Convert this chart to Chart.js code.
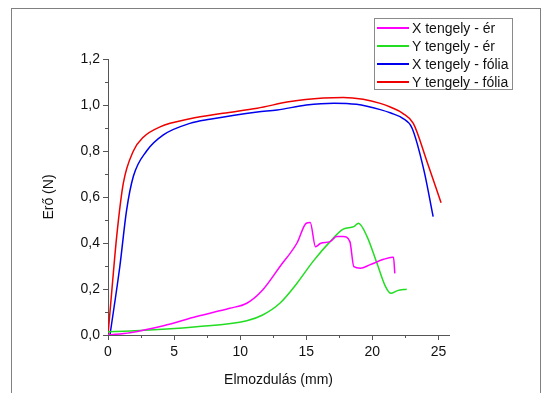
<!DOCTYPE html>
<html>
<head>
<meta charset="utf-8">
<script src="https://cdn.jsdelivr.net/npm/chart.js@4/dist/chart.umd.min.js"></script>
<style>
  html, body { margin: 0; padding: 0; background: #fff; }
  #wrap { position: relative; width: 545px; height: 393px; overflow: hidden; font-family: "Liberation Sans", Arial, sans-serif; }
  #frame { position: absolute; left: 11px; top: 8px; width: 530px; height: 400px; border: 1px solid #808080; box-sizing: border-box; }
  #legend { position: absolute; left: 374px; top: 18px; width: 139px; height: 72px; border: 1px solid #8a8a8a; box-sizing: border-box; background: #fff; }
  .item { position: absolute; left: 1px; height: 18px; line-height: 18px; font-size: 14px; color: #111; white-space: nowrap; }
  .item span.ln { position: absolute; left: 1px; top: 8px; width: 32px; height: 1.5px; }
  .item span.tx { position: absolute; left: 36px; top: 0; }
</style>
</head>
<body>
<div id="wrap">
  <div id="frame"></div>
  <canvas id="chart" width="545" height="393"></canvas>
  <div id="legend"></div>
</div>
<script>
// Erő - elmozdulás görbék
const xErX = [0, 1.67, 4.2, 6.7, 9.2, 10.5, 11.7, 13.0, 14.3, 15.0, 15.3, 15.7, 16.1, 16.8, 17.3, 17.8, 18.3, 18.6, 19.1, 19.8, 20.85, 21.5, 21.6, 21.7];
const xErY = [0, 0.01, 0.04, 0.08, 0.116, 0.138, 0.196, 0.297, 0.40, 0.486, 0.489, 0.384, 0.399, 0.406, 0.428, 0.428, 0.406, 0.297, 0.29, 0.305, 0.329, 0.338, 0.338, 0.268];

const yErX = [0, 1.67, 6.7, 10.5, 11.7, 13.0, 14.3, 15.5, 16.8, 17.8, 18.6, 18.95, 19.6, 20.35, 21.0, 21.4, 21.9, 22.6];
const yErY = [0.014, 0.017, 0.036, 0.062, 0.087, 0.138, 0.225, 0.319, 0.406, 0.46, 0.471, 0.486, 0.428, 0.312, 0.21, 0.181, 0.193, 0.199];

const xFoliaX = [0.15, 0.9, 1.4, 1.92, 2.92, 4.19, 6.2, 7.7, 11.3, 12.8, 15.0, 17.1, 18.8, 20.6, 21.4, 22.3, 23.0, 23.9, 24.6];
const xFoliaY = [0, 0.30, 0.54, 0.69, 0.80, 0.87, 0.92, 0.938, 0.97, 0.978, 1.0, 1.008, 1.003, 0.98, 0.965, 0.942, 0.90, 0.717, 0.515];

const yFoliaX = [0, 0.3, 0.66, 1.16, 1.92, 2.67, 3.94, 6.2, 8.7, 11.3, 13.8, 16.3, 17.8, 19.3, 20.6, 21.4, 22.3, 23.1, 24.1, 25.2];
const yFoliaY = [0, 0.2, 0.43, 0.66, 0.80, 0.86, 0.905, 0.94, 0.964, 0.986, 1.015, 1.03, 1.033, 1.025, 1.007, 0.99, 0.964, 0.92, 0.76, 0.575];

const seriesNames = ['X tengely - ér', 'Y tengely - ér', 'X tengely - fólia', 'Y tengely - fólia'];
const seriesColors = ['#ff00ff', '#22dd22', '#0000ee', '#ee0000'];

const xTitle = 'Elmozdulás (mm)';
const yTitle = 'Erő (N)';

function pts(xs, ys) {
  return xs.map((x, i) => ({ x: x, y: ys[i] }));
}

const allData = [pts(xErX, xErY), pts(yErX, yErY), pts(xFoliaX, xFoliaY), pts(yFoliaX, yFoliaY)];

const fontFam = '"Liberation Sans", Arial, sans-serif';
const axisColor = '#555';

// kis és nagy osztások rajzolása kifelé
const tickPlugin = {
  id: 'ticksOut',
  afterDraw(chart) {
    const ctx = chart.ctx;
    ctx.save();
    ctx.strokeStyle = axisColor;
    ctx.lineWidth = 1;
    const xs = chart.scales.x, ys = chart.scales.y;
    xs.ticks.forEach(t => {
      const px = Math.round(xs.getPixelForValue(t.value)) + 0.5;
      const major = Math.round(t.value / 2.5) % 2 === 0;
      ctx.beginPath();
      ctx.moveTo(px, ys.bottom);
      ctx.lineTo(px, ys.bottom + (major ? 5 : 3));
      ctx.stroke();
    });
    ys.ticks.forEach(t => {
      const py = Math.round(ys.getPixelForValue(t.value)) + 0.5;
      const major = Math.round(t.value * 10) % 2 === 0;
      ctx.beginPath();
      ctx.moveTo(xs.left, py);
      ctx.lineTo(xs.left - (major ? 5 : 3), py);
      ctx.stroke();
    });
    ctx.restore();
  }
};

const chart = new Chart(document.getElementById('chart'), {
  type: 'line',
  data: {
    datasets: seriesNames.map((name, i) => ({
      label: name,
      data: allData[i],
      borderColor: seriesColors[i],
      borderWidth: 1.5,
      pointRadius: 0,
      cubicInterpolationMode: 'monotone',
      fill: false
    }))
  },
  options: {
    responsive: false,
    animation: false,
    events: [],
    layout: { padding: { left: 0, top: 59, right: 96, bottom: 0 } },
    plugins: { legend: { display: false }, tooltip: { enabled: false } },
    scales: {
      x: {
        type: 'linear',
        min: 0,
        max: 25.8,
        afterFit: s => { s.height = 58; },
        border: { display: true, color: axisColor, width: 1 },
        grid: { display: false, drawTicks: false },
        ticks: {
          stepSize: 2.5,
          includeBounds: false,
          padding: 9,
          color: '#111',
          font: { family: fontFam, size: 14 },
          callback: v => (Math.round(v / 2.5) % 2 === 0 ? String(Math.round(v)) : '')
        },
        title: { display: true, text: xTitle, color: '#111', font: { family: fontFam, size: 14 }, padding: { top: 0, bottom: 4 } }
      },
      y: {
        min: 0,
        max: 1.2,
        afterFit: s => { s.width = 108; },
        border: { display: true, color: axisColor, width: 1 },
        grid: { display: false, drawTicks: false },
        ticks: {
          stepSize: 0.1,
          padding: 8,
          color: '#111',
          font: { family: fontFam, size: 14 },
          callback: v => (Math.round(v * 10) % 2 === 0 ? v.toFixed(1).replace('.', ',') : '')
        },
        title: { display: true, text: yTitle, color: '#111', font: { family: fontFam, size: 14 }, padding: { top: 41, bottom: 0 } }
      }
    }
  },
  plugins: [tickPlugin]
});

// jelmagyarázat a grafikon sarkában
const legend = document.getElementById('legend');
chart.data.datasets.forEach((ds, i) => {
  const row = document.createElement('div');
  row.className = 'item';
  row.style.top = (i * 18) + 'px';
  row.innerHTML = '<span class="ln" style="background:' + ds.borderColor + '"></span><span class="tx"></span>';
  row.querySelector('.tx').textContent = ds.label;
  legend.appendChild(row);
});
</script>
</body>
</html>
